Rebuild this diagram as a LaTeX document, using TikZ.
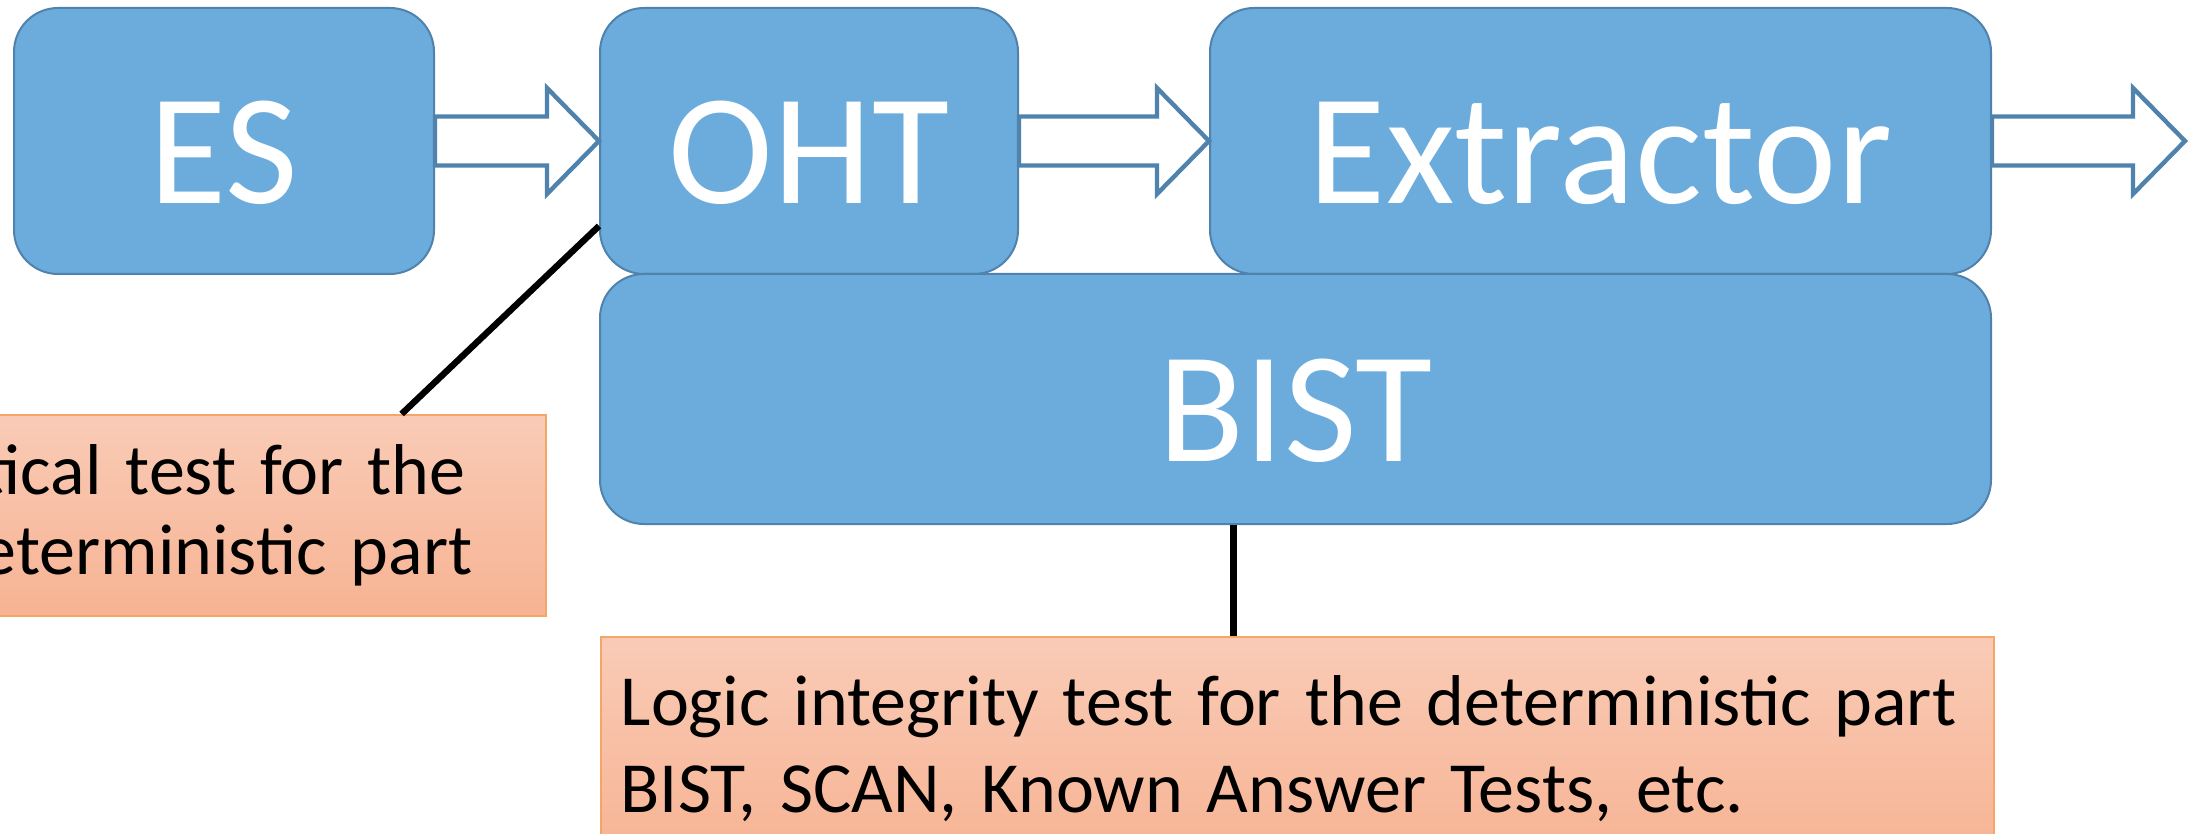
\documentclass[tikz,border=0pt]{standalone}
\usepackage{fontspec}
\setmainfont{Carlito}
\newfontfamily\notefont{Carlito}[WordSpace=0.72]
\usetikzlibrary{calc, positioning}

\definecolor{boxblue}{HTML}{6CACDC}
\definecolor{boxedge}{HTML}{4F82AC}
\definecolor{notetop}{HTML}{F9CBB6}
\definecolor{notebottom}{HTML}{F7B393}
\definecolor{noteedge}{HTML}{F5A566}

\begin{document}
\begin{tikzpicture}[x=0.5pt, y=-0.5pt,
  block/.style={draw=boxedge, line width=1pt, fill=boxblue, rounded corners=22pt,
    text=white, font=\fontsize{79}{90}\selectfont,
    text height=62.6pt, text depth=0pt, inner sep=0pt},
  note/.style={draw=noteedge, line width=0.8pt, top color=notetop, bottom color=notebottom,
    align=left, inner xsep=10pt},
  flow/.style={draw=boxedge, line width=2.2pt, fill=white},
  link/.style={line width=3.2pt}]

\useasboundingbox (0,0) rectangle (2202,834);
\clip (0,0) rectangle (2202,834);

% blocks
\node[block, minimum width=210pt, minimum height=133pt] (es) at (224,141) {ES};
\node[block, minimum width=209pt, minimum height=133pt] (oht) at (809,141) {OHT};
\node[block, minimum width=390.5pt, minimum height=133pt] (ext) at (1600.5,141) {Extractor};
\node[block, minimum width=695.5pt, minimum height=125pt] (bist) at (1295.5,399) {BIST};
\coordinate (out) at (2185,141);

% block arrows
\foreach \a/\b in {es.east/oht.west, oht.east/ext.west, ext.east/out} {
  \draw[flow] ($(\a)+(0,-24.5)$) -- ($(\b)+(-52,-24.5)$) -- ($(\b)+(-52,-53)$) -- (\b)
    -- ($(\b)+(-52,53)$) -- ($(\b)+(-52,24.5)$) -- ($(\a)+(0,24.5)$) -- cycle;
}

% notes
\node[note, anchor=north west, text width=272.5pt, minimum height=100.5pt, inner ysep=0pt,
  font=\notefont\fontsize{36}{40}\selectfont] (stat) at (-40,414)
  {tical test for the\\eterministic part};
\node[note, anchor=north west, text width=676.5pt, inner ysep=19.5pt,
  font=\notefont\fontsize{36}{43.5}\selectfont] (logic) at (600,636)
  {Logic integrity test for the deterministic part\\BIST, SCAN, Known Answer Tests, etc.};

\draw[link] ([yshift=24.5pt]oht.south west) -- ([xshift=-72.5pt]stat.north east);
\draw[link] ([xshift=-31pt]bist.south) -- ([xshift=-31pt]bist.south |- logic.north);
\end{tikzpicture}
\end{document}
